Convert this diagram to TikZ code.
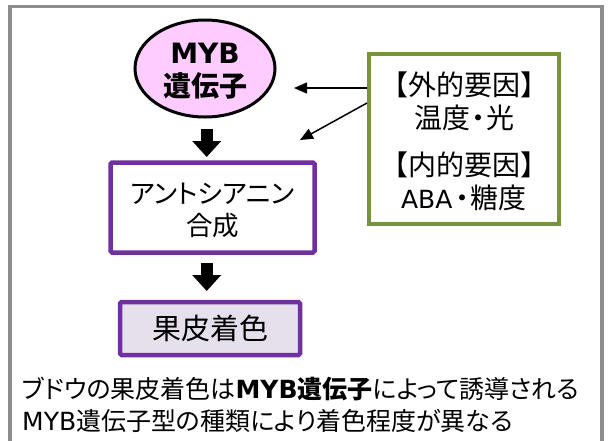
\documentclass[tikz,border=0pt]{standalone}
\usepackage{fontspec}
\setmainfont{Noto Sans CJK JP}[CharacterWidth=AlternateProportional]
\newfontfamily\jpfull{Noto Sans CJK JP}
\newfontfamily\jpprop{Noto Sans CJK JP}[CharacterWidth=AlternateProportional]
\newfontfamily\lat{DejaVu Sans}
\newcommand{\nakadot}{{\jpprop\hspace{1pt}・\hspace{1pt}}}
\usetikzlibrary{shapes.geometric,arrows.meta}
\definecolor{framegray}{HTML}{8C8C8C}
\definecolor{genepink}{HTML}{FFCCFF}
\definecolor{boxpurple}{HTML}{7030A0}
\definecolor{lavender}{HTML}{E6E0EC}
\definecolor{factorgreen}{HTML}{77933C}
\begin{document}
\begin{tikzpicture}[x=1pt,y=-1pt,
  frame/.style={draw=framegray, line width=3.5pt},
  gene/.style={ellipse, draw=black, line width=3pt, fill=genepink,
    minimum width=140pt, minimum height=97pt, inner sep=0pt},
  genetext/.style={align=center, inner sep=0pt,
    font=\fontsize{28}{33}\selectfont\bfseries},
  procbox/.style={draw=boxpurple, line width=4.5pt, rounded corners=1.5pt,
    align=center, inner sep=0pt},
  factorbox/.style={draw=factorgreen, line width=4pt, align=center, inner sep=0pt,
    minimum width=190pt, minimum height=170pt,
    font=\jpfull\fontsize{28}{33}\selectfont},
  blockarrow/.style={line width=12pt, -{Triangle[width=28pt,length=16pt]}},
  thinarrow/.style={line width=1.5pt, -{Triangle[width=11pt,length=13pt]}},
  caption/.style={anchor=west, inner sep=0pt, font=\fontsize{25}{30}\selectfont},
]
\useasboundingbox (0,0) rectangle (609,440);
\fill[white] (0,0) rectangle (609,440);
\draw[frame] (10,6.5) rectangle (602,470);

\node[gene] (myb) at (205,68.5) {};
\node[genetext] (mybtext) at ([yshift=-3pt]myb.center) {{\lat\bfseries MYB}\\遺伝子};

\node[procbox, minimum width=204pt, minimum height=90pt] (anth) at (212.5,207.5) {};
\node[align=center, inner sep=0pt, font=\fontsize{26.5}{32}\selectfont]
  (anthtext) at ([yshift=-2.5pt]anth.center) {アントシアニン\\合成};

\node[procbox, fill=lavender, minimum width=180pt, minimum height=53pt,
  font=\fontsize{29}{32}\selectfont] (color) at (210,328.5) {果皮着色};

\node[factorbox] (factor) at (464,139) {};
\node[align=center, inner sep=0pt, font=\jpfull\fontsize{28}{33}\selectfont]
  (factortext) at ([yshift=-2.5pt]factor.center)
  {【外的要因】\\温度\nakadot 光\\[14pt]【内的要因】\\{\lat\fontsize{25}{33}\selectfont ABA}\hspace{2.5pt}\nakadot 糖度};

\coordinate (a1s) at (206.7,129);
\coordinate (a1e) at (206.7,157);
\coordinate (a2s) at (206.7,263);
\coordinate (a2e) at (206.7,291);
\draw[blockarrow] (a1s) -- (a1e);
\draw[blockarrow] (a2s) -- (a2e);

\coordinate (t1) at (294,88);
\coordinate (s2) at (369,103);
\coordinate (t2) at (300,140);
\draw[thinarrow] (factor.west |- t1) -- (t1);
\draw[thinarrow] (factor.west |- s2) -- (t2);

\node[caption] (cap1) at (22,389)
  {ブドウの果皮着色は{\bfseries\lat MYB}{\bfseries 遺伝子}によって誘導される};
\node[caption] (cap2) at (22,421)
  {{\lat MYB}遺伝子型の種類により着色程度が異なる};
\end{tikzpicture}
\end{document}
